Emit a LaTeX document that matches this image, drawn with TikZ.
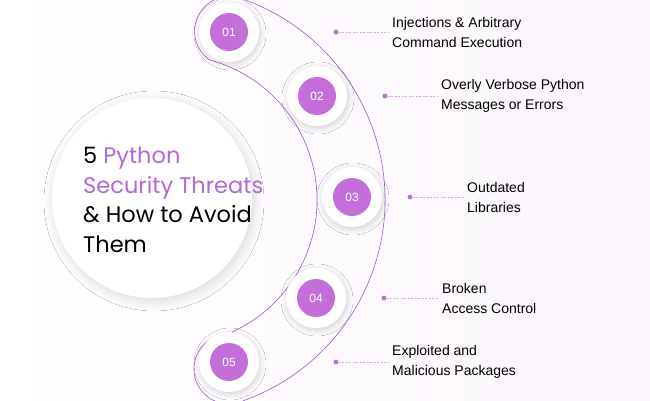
\documentclass[tikz,border=0pt]{standalone}
\usepackage{fontspec}
\setmainfont{Liberation Sans}
\newfontfamily\titlefont{Poppins}
\usetikzlibrary{shadows.blur,calc}
\definecolor{purp}{HTML}{C46FD9}
\definecolor{purpt}{HTML}{B468D6}
\definecolor{lineP}{HTML}{9B5BC0}
\tikzset{
  halo/.style={circle,fill=white,minimum size=60pt,inner sep=0,blur shadow={shadow blur steps=10,shadow blur radius=6pt,shadow xshift=1pt,shadow yshift=-2pt,shadow opacity=18}},
  numdot/.style={circle,fill=purp,minimum size=38pt,inner sep=0,text=white,font=\fontsize{12}{12}\selectfont},
  smalldot/.style={circle,fill=purp,minimum size=5pt,inner sep=0},
  lbl/.style={anchor=west,align=left,font=\fontsize{14}{20}\selectfont,inner sep=0},
  dashline/.style={draw=purp!60,dash pattern=on 2pt off 1.5pt,line width=0.5pt}
}
\begin{document}
\begin{tikzpicture}[x=1pt,y=1pt]
\shade[left color=white,right color=purp!6] (0,0) rectangle (650,400);
\useasboundingbox (0,0) rectangle (650,400);
% band
\coordinate (C) at (172,200);
\draw[lineP,line width=0.6pt] ($(C)+(70:213)$) arc[start angle=70,end angle=-70,radius=213]
  arc[start angle=-63,end angle=-235,radius=35]
  -- ($(C)+(-75:145)$) arc[start angle=-75,end angle=75,radius=145]
  arc[start angle=235,end angle=63,radius=35] -- cycle;
% big circle
\node[circle,fill=white,minimum size=200pt,blur shadow={shadow blur steps=12,shadow blur radius=10pt,shadow xshift=2pt,shadow yshift=-3pt,shadow opacity=15}] (big) at (152,202) {};
\node[anchor=west,align=left,font=\titlefont\fontsize{22.5}{29.5}\selectfont,inner sep=0] (title) at (83,200)
 {5 \textcolor{purpt}{Python}\\ \textcolor{purpt}{Security Threats}\\ \& How to Avoid\\ Them};
% items
\foreach \n/\x/\y/\dx/\tx/\t in {
  01/229/368/336/392/{Injections \& Arbitrary\\Command Execution},
  02/317/304/385/441/{Overly Verbose Python\\Messages or Errors},
  03/352/203/410/467/{Outdated\\Libraries},
  04/316/102/384/442/{Broken\\Access Control},
  05/229/38/336/392/{Exploited and\\Malicious Packages}}{
  \node[halo] (h\n) at (\x,\y) {};
  \node[numdot] (n\n) at (\x,\y) {\n};
  \node[smalldot] (d\n) at (\dx,\y) {};
  \node[lbl] (t\n) at (\tx,\y) {\t};
  \draw[dashline] (d\n) -- ([xshift=-3pt]t\n.west);
}
\end{tikzpicture}
\end{document}
